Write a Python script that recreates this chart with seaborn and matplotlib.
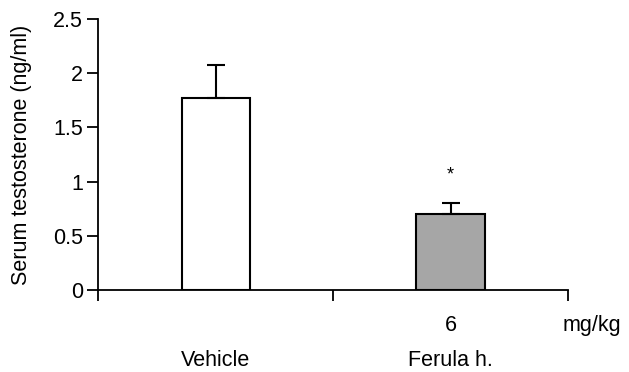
import pandas as pd
import seaborn as sns
import matplotlib.pyplot as plt

groups = ['Vehicle', 'Ferula h.']
doses = ['', '6']
means = [1.77, 0.70]
sem = [0.31, 0.10]
bar_colors = ['white', '#a6a6a6']

df = pd.DataFrame({'group': groups, 'testosterone': means})

sns.set_style('ticks')
plt.rcParams['font.family'] = ['Liberation Sans', 'DejaVu Sans']
plt.rcParams['text.color'] = 'black'
plt.rcParams['axes.labelcolor'] = 'black'
fs = 15.5

fig = plt.figure(figsize=(6.29, 3.72), dpi=100)
ax = fig.add_axes([0.156, 0.220, 0.747, 0.729])

sns.barplot(data=df, x='group', y='testosterone', hue='group', palette=bar_colors,
            width=0.29, edgecolor='black', linewidth=1.5, legend=False, ax=ax)
# upper error bars only
ax.errorbar(range(len(groups)), means, yerr=[[0] * len(sem), sem], fmt='none',
            ecolor='black', elinewidth=1.5, capsize=6.5, capthick=1.5)
ax.text(1, means[1] + sem[1] + 0.26, '*', ha='center', va='center', fontsize=13)

ax.set_xlim(-0.5, 1.5)
ax.set_ylim(0, 2.5)
ax.set_yticks([0, 0.5, 1, 1.5, 2, 2.5])
ax.set_yticklabels(['0', '0.5', '1', '1.5', '2', '2.5'])
ax.set_xticks([-0.5, 0.5, 1.5])
ax.set_xticklabels([])
ax.tick_params(axis='both', direction='out', length=8, width=1.3, labelsize=fs, colors='black')
ax.tick_params(axis='y', pad=3)
for s in ['left', 'bottom']:
    ax.spines[s].set_linewidth(1.3)
    ax.spines[s].set_color('black')
sns.despine(ax=ax)
ax.set_xlabel('')
ax.set_ylabel('Serum testosterone (ng/ml)', fontsize=fs, labelpad=15, color='black')

trans = ax.get_xaxis_transform()
for i, (g, d) in enumerate(zip(groups, doses)):
    ax.text(i, -0.13, d, transform=trans, ha='center', va='center', fontsize=fs, color='black')
    ax.text(i, -0.26, g, transform=trans, ha='center', va='center', fontsize=fs, color='black')
ax.text(1.6, -0.13, 'mg/kg', transform=trans, ha='center', va='center', fontsize=fs, color='black')

fig.savefig('out.png', dpi=100)
